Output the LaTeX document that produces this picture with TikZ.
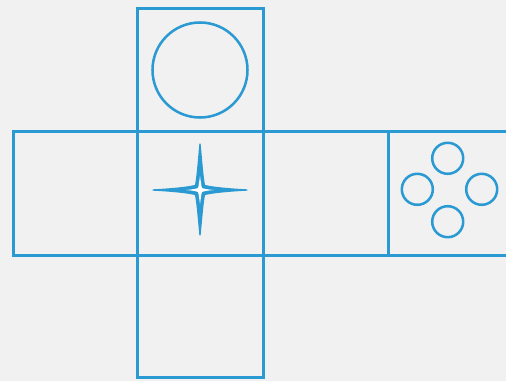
\documentclass[tikz,border=0pt]{standalone}
\usepackage{tikz}
\definecolor{netblue}{HTML}{2B9AD3}
\definecolor{paper}{HTML}{F1F1F1}

\begin{document}
\begin{tikzpicture}[x=0.75pt, y=-0.75pt, line join=miter,
    face/.style={draw=netblue, line width=2pt},
    pip/.style={draw=netblue, line width=1.9pt}]
  % Page
  \fill[paper] (0,0) rectangle (506,381);
  \useasboundingbox (0,0) rectangle (506,381);
  \clip (0,0) rectangle (506,381);

  % Faint grid dots
  \foreach \x in {22,46,...,120}
    \foreach \y in {16,40,...,112}
      \fill[black!8] (\x,\y) circle (0.8);

  % Top face
  \draw[face] (137.5,8.5) rectangle (263.5,131.5);
  \draw[pip] (200,70) circle (47.5);

  % Middle row
  \draw[face] (13.5,131.5) rectangle (137.5,255.5);
  \draw[face] (137.5,131.5) rectangle (263.5,255.5);
  \draw[face] (263.5,131.5) rectangle (388.5,255.5);
  \draw[face] (388.5,131.5) rectangle (520,255.5);

  % Star
  \filldraw[fill=netblue, draw=netblue, line width=1pt, line join=round]
    (200,144) .. controls (202,166) and (203,179) .. (204.5,185.5)
    .. controls (212,187.5) and (229,189) .. (247,190)
    .. controls (229,191) and (212,192.5) .. (204.5,194.5)
    .. controls (203,201) and (202,214) .. (200,235)
    .. controls (198,214) and (197,201) .. (195.5,194.5)
    .. controls (188,192.5) and (171,191) .. (153,190)
    .. controls (171,189) and (188,187.5) .. (195.5,185.5)
    .. controls (197,179) and (198,166) .. (200,144) -- cycle;
  \fill[white]
    (200,176) .. controls (201,183) and (201.5,187) .. (202,188)
    .. controls (203,188.5) and (207,189.5) .. (214,190)
    .. controls (207,190.5) and (203,191.5) .. (202,192)
    .. controls (201.5,193) and (201,197) .. (200,204)
    .. controls (199,197) and (198.5,193) .. (198,192)
    .. controls (197,191.5) and (193,190.5) .. (186,190)
    .. controls (193,189.5) and (197,188.5) .. (198,188)
    .. controls (198.5,187) and (199,183) .. (200,176) -- cycle;

  % Four pips
  \foreach \px/\py in {447.7/158.3, 417.3/189.3, 481.7/189.3, 447.7/221.7}
    \draw[pip] (\px,\py) circle (15.5);

  % Bottom face
  \draw[face] (137.5,255.5) rectangle (263.5,377.5);
\end{tikzpicture}
\end{document}
